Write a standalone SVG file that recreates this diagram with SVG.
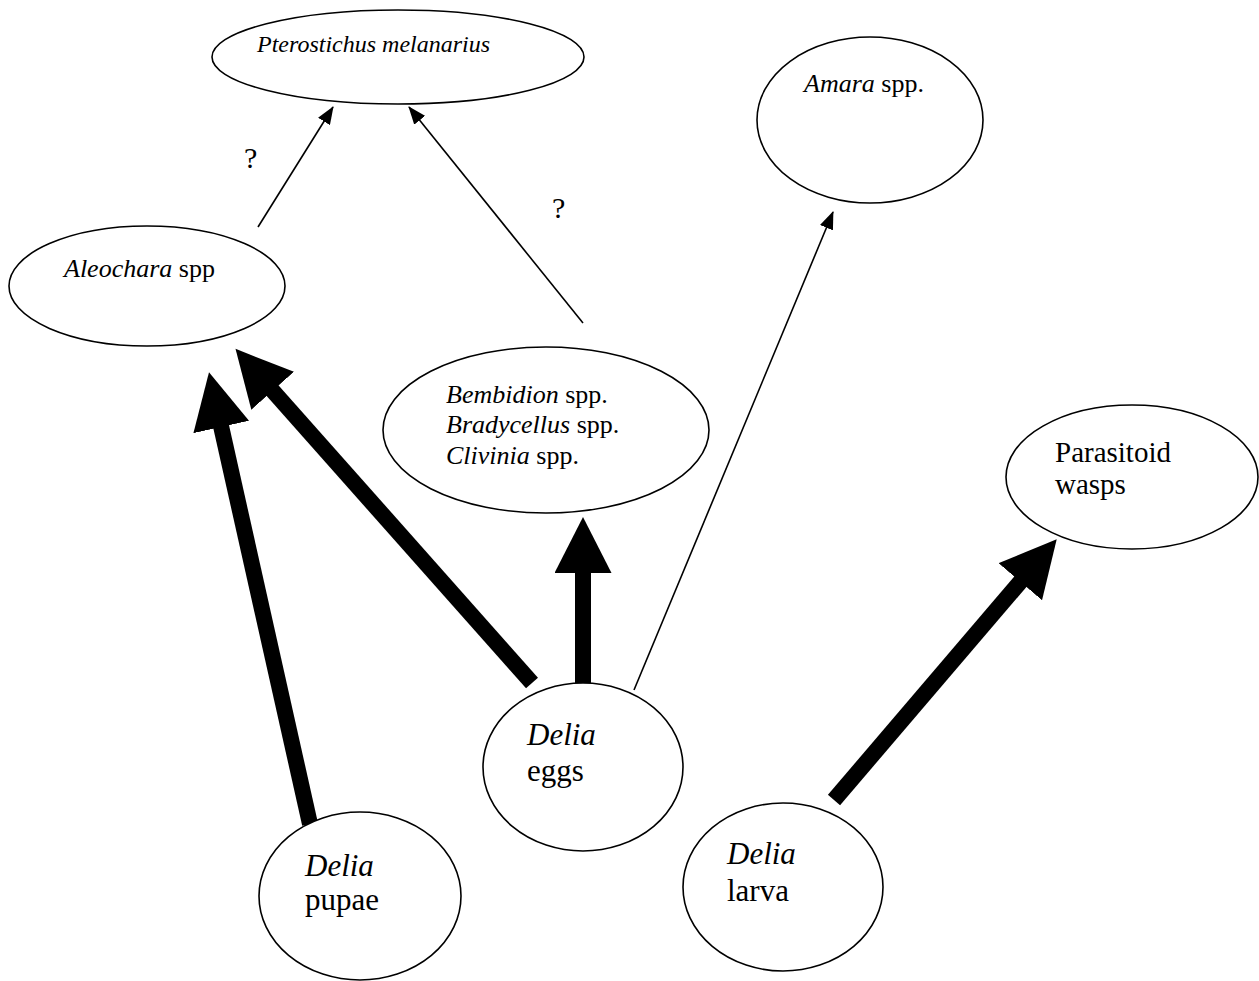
<svg xmlns="http://www.w3.org/2000/svg" width="1259" height="981" viewBox="0 0 1259 981">
<defs>
<style>
.node ellipse{fill:#fff;stroke:#000;stroke-width:1.6}
text{font-family:"Liberation Serif","Times New Roman",serif;fill:#000}
.i{font-style:italic}
.thin{stroke:#000;stroke-width:1.6;fill:none}
.thick{stroke:#000;stroke-width:16;fill:none}
</style>
<marker id="ah" markerUnits="userSpaceOnUse" markerWidth="18" markerHeight="14" refX="17" refY="7" orient="auto">
<path d="M0,0 L18,7 L0,14 z" fill="#000"/>
</marker>
<marker id="AH" markerUnits="userSpaceOnUse" markerWidth="57" markerHeight="57" refX="1" refY="28.5" orient="auto">
<path d="M0,0 L56,28.5 L0,57 z" fill="#000"/>
</marker>
</defs>
<rect width="1259" height="981" fill="#fff"/>
<g id="connectors">
<line class="thin" x1="258" y1="227" x2="333" y2="107" marker-end="url(#ah)"/>
<line class="thin" x1="583" y1="323" x2="409" y2="107" marker-end="url(#ah)"/>
<line class="thin" x1="634" y1="690" x2="833" y2="212" marker-end="url(#ah)"/>
<line class="thick" x1="583" y1="683" x2="583" y2="572" marker-end="url(#AH)"/>
<line class="thick" x1="532" y1="683" x2="272" y2="390" marker-end="url(#AH)"/>
<line class="thick" x1="310" y1="824" x2="221" y2="426" marker-end="url(#AH)"/>
<line class="thick" x1="834" y1="800" x2="1021" y2="581" marker-end="url(#AH)"/>
<text x="244" y="168" font-size="30">?</text>
<text x="552" y="218" font-size="30">?</text>
</g>
<g id="pterostichus" class="node">
<ellipse cx="398" cy="57" rx="186" ry="47"/>
<text x="257" y="52" font-size="24" class="i">Pterostichus melanarius</text>
</g>
<g id="amara" class="node">
<ellipse cx="870" cy="120" rx="113" ry="83"/>
<text x="804" y="92" font-size="26"><tspan class="i">Amara</tspan> spp.</text>
</g>
<g id="aleochara" class="node">
<ellipse cx="147" cy="286" rx="138" ry="60"/>
<text x="64" y="277" font-size="26"><tspan class="i">Aleochara</tspan> spp</text>
</g>
<g id="bembidion" class="node">
<ellipse cx="546" cy="430" rx="163" ry="83"/>
<text x="446" y="403" font-size="26"><tspan class="i">Bembidion</tspan> spp.</text>
<text x="446" y="433" font-size="26"><tspan class="i">Bradycellus</tspan> spp.</text>
<text x="446" y="464" font-size="26"><tspan class="i">Clivinia</tspan> spp.</text>
</g>
<g id="parasitoid" class="node">
<ellipse cx="1132" cy="477" rx="126" ry="72"/>
<text x="1055" y="462" font-size="29">Parasitoid</text>
<text x="1055" y="494" font-size="29">wasps</text>
</g>
<g id="eggs" class="node">
<ellipse cx="583" cy="767" rx="100" ry="84"/>
<text x="527" y="745" font-size="31" class="i">Delia</text>
<text x="527" y="781" font-size="31">eggs</text>
</g>
<g id="pupae" class="node">
<ellipse cx="360" cy="896" rx="101" ry="84"/>
<text x="305" y="876" font-size="31" class="i">Delia</text>
<text x="305" y="910" font-size="31">pupae</text>
</g>
<g id="larva" class="node">
<ellipse cx="783" cy="887" rx="100" ry="84"/>
<text x="727" y="864" font-size="31" class="i">Delia</text>
<text x="727" y="901" font-size="31">larva</text>
</g>
</svg>
